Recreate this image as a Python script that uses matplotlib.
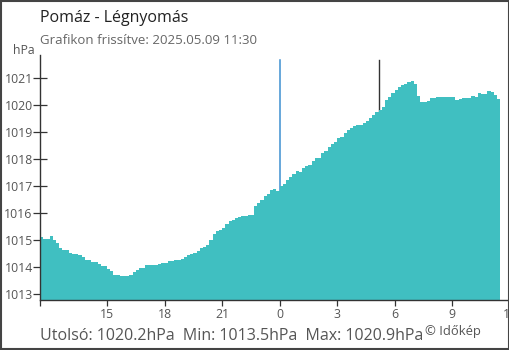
import numpy as np
import matplotlib
matplotlib.use('Agg')
import matplotlib.pyplot as plt
from matplotlib.patches import Rectangle

# pressure readings, every 10 minutes from 11:30 (previous day) to 11:30
pressure = [
    1015.11, 1015.05, 1015.03, 1015.15, 1015.00, 1014.90, 1014.72, 1014.65, 1014.62, 1014.53,
    1014.50, 1014.48, 1014.45, 1014.36, 1014.28, 1014.25, 1014.20, 1014.18, 1014.10, 1014.06,
    1014.03, 1013.92, 1013.85, 1013.71, 1013.70, 1013.68, 1013.66, 1013.67, 1013.70, 1013.82,
    1013.90, 1013.96, 1013.98, 1014.07, 1014.08, 1014.08, 1014.09, 1014.13, 1014.15, 1014.15,
    1014.22, 1014.24, 1014.26, 1014.25, 1014.30, 1014.36, 1014.45, 1014.47, 1014.54, 1014.60,
    1014.70, 1014.74, 1014.82, 1015.01, 1015.22, 1015.35, 1015.38, 1015.44, 1015.59, 1015.72,
    1015.74, 1015.83, 1015.86, 1015.90, 1015.90, 1015.93, 1015.94, 1016.27, 1016.37, 1016.49,
    1016.64, 1016.72, 1016.86, 1016.89, 1016.83, 1017.01, 1017.10, 1017.25, 1017.34, 1017.46,
    1017.55, 1017.52, 1017.67, 1017.76, 1017.78, 1017.92, 1018.04, 1018.06, 1018.25, 1018.30,
    1018.44, 1018.56, 1018.66, 1018.79, 1018.82, 1018.97, 1019.10, 1019.16, 1019.25, 1019.26,
    1019.27, 1019.35, 1019.41, 1019.53, 1019.65, 1019.75, 1019.84, 1019.95, 1020.19, 1020.31,
    1020.46, 1020.58, 1020.68, 1020.77, 1020.79, 1020.88, 1020.90, 1020.80, 1020.35, 1020.11,
    1020.12, 1020.17, 1020.26, 1020.26, 1020.31, 1020.31, 1020.31, 1020.31, 1020.31, 1020.30,
    1020.19, 1020.22, 1020.26, 1020.29, 1020.29, 1020.36, 1020.33, 1020.46, 1020.43, 1020.43,
    1020.52, 1020.50, 1020.40, 1020.22,
]
start_hour = 11.5          # 11:30 of the previous day
step_hours = 10 / 60

xtick_pos = [15, 18, 21, 24, 27, 30, 33, 36]
xtick_labels = ["15", "18", "21", "0", "3", "6", "9", "12"]
yticks = [1013, 1014, 1015, 1016, 1017, 1018, 1019, 1020, 1021]

midnight = 24
marker_hour = 29.2

title = "Pomáz - Légnyomás"
subtitle = "Grafikon frissítve: 2025.05.09 11:30"
footer = "Utolsó: 1020.2hPa  Min: 1013.5hPa  Max: 1020.9hPa"
credit = "© Időkép"

plt.rcParams['font.family'] = ['Open Sans', 'DejaVu Sans']

fig = plt.figure(figsize=(5.1, 3.5), dpi=100)
ax = fig.add_axes([40 / 510, 50.5 / 350, 469.7 / 510, 244.5 / 350])

ymin, ymax = 1012.8, 1021.87
edges = start_hour + np.arange(len(pressure) + 1) * step_hours
ax.stairs(pressure, edges, baseline=ymin, fill=True, color='#40bfc1', zorder=2)

ax.axvline(midnight, ymax=0.98, color='#3d8fd1', lw=1.1, zorder=1)
ax.axvline(marker_hour, ymax=0.98, color='#333333', lw=1.0, zorder=1)

ax.set_xlim(start_hour, 36)
ax.set_ylim(ymin, ymax)

ax.set_xticks([start_hour] + xtick_pos)
ax.set_xticklabels([""] + xtick_labels)
ax.set_yticks(yticks)
ax.tick_params(axis='y', direction='inout', length=9.5, width=0.9, color='#333333',
               labelsize=8.8, labelcolor='#555555', pad=0.5)
ax.tick_params(axis='x', direction='out', length=4.3, width=0.9, color='#333333',
               labelsize=8.8, labelcolor='#555555', pad=2)
ax.get_xticklines()[2 * (1 + xtick_labels.index("0"))].set_color('#3d8fd1')

for s in ['top', 'right']:
    ax.spines[s].set_visible(False)
for s in ['left', 'bottom']:
    ax.spines[s].set_color('#333333')
    ax.spines[s].set_linewidth(1.0)

fig.text(40 / 510, 1 - 18 / 350, title, fontsize=11.5, color='#222222', va='center')
fig.text(40 / 510, 1 - 41 / 350, subtitle, fontsize=9.5, color='#666666', va='center')
fig.text(35 / 510, 1 - 50 / 350, "hPa", fontsize=8.8, color='#555555', ha='right', va='center')
fig.text(40 / 510, 1 - 340 / 350, footer, fontsize=11.5, color='#555555', va='baseline')
fig.text(425 / 510, 1 - 335 / 350, credit, fontsize=9.4, color='#555555', va='baseline')

fig.patches.append(Rectangle((0.001, 0.002), 0.997, 0.996, transform=fig.transFigure,
                             fill=False, edgecolor='#444444', linewidth=1.5))

fig.savefig("out.png", dpi=100)
